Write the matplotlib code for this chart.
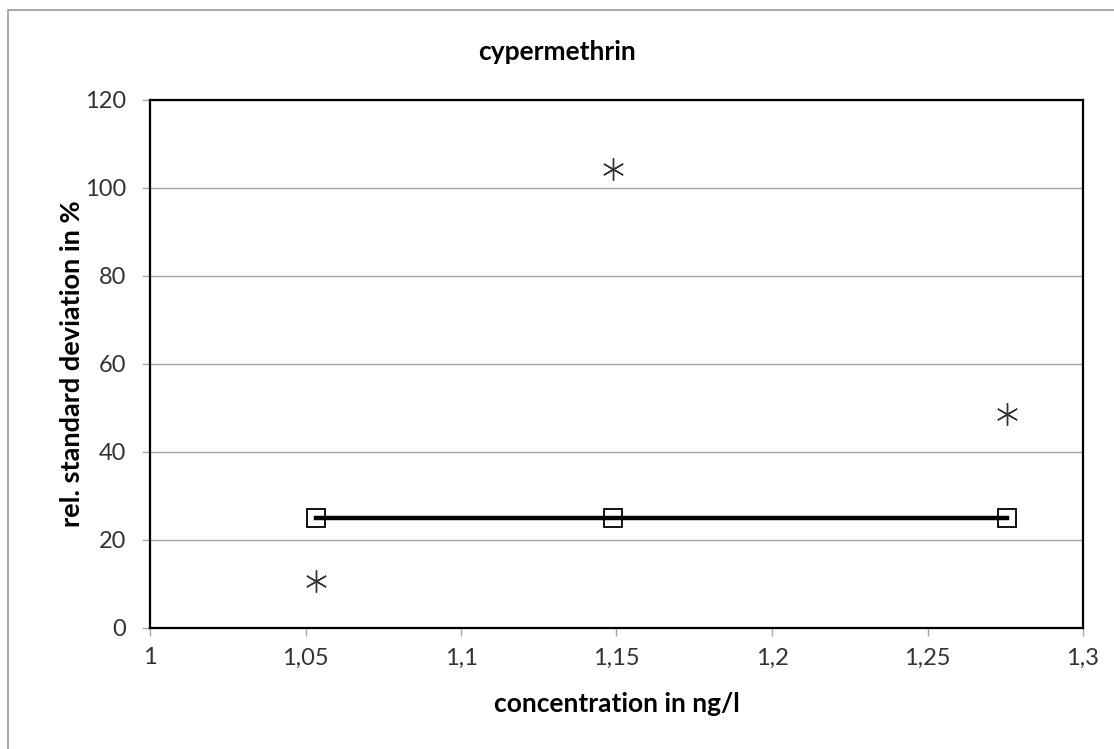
import matplotlib.pyplot as plt
from matplotlib.patches import Rectangle

plt.rcParams['font.family'] = ['Lato', 'DejaVu Sans']

# measured values
conc = [1.0534, 1.1489, 1.2756]
rsd = [10.7, 104.3, 48.6]
limit = [25, 25, 25]

x_ticks = [1, 1.05, 1.1, 1.15, 1.2, 1.25, 1.3]
x_labels = ['1', '1,05', '1,1', '1,15', '1,2', '1,25', '1,3']
y_ticks = [0, 20, 40, 60, 80, 100, 120]

fig = plt.figure(figsize=(11.14, 7.49), dpi=100)
ax = fig.add_axes([150 / 1114, 1 - 628 / 749, 933 / 1114, 528 / 749])

# outer chart border
fig.patches.append(Rectangle((8 / 1114, -0.05), 1.2, (749 - 10) / 749 + 0.05,
                             transform=fig.transFigure, fill=False,
                             edgecolor='#999999', linewidth=1.2))

ax.plot(conc, limit, color='black', linewidth=3.2, marker='s', markersize=13,
        markerfacecolor='none', markeredgecolor='black', markeredgewidth=1.3,
        zorder=3)
ax.plot(conc, rsd, linestyle='none', marker=(6, 2, 0), markersize=16,
        color='#333333', markeredgewidth=1.0, zorder=3)

ax.set_xlim(1, 1.3)
ax.set_ylim(0, 120)
ax.set_xticks(x_ticks)
ax.set_xticklabels(x_labels)
ax.set_yticks(y_ticks)
ax.grid(axis='y', color='#a6a6a6', linewidth=1)
ax.set_axisbelow(True)
for s in ax.spines.values():
    s.set_linewidth(1.6)
    s.set_color('black')
ax.tick_params(direction='out', length=6, width=1, color='#a6a6a6',
               labelsize=17, labelcolor='#333333')
ax.tick_params(axis='x', pad=8)
ax.tick_params(axis='y', pad=11)

ax.set_xlabel('concentration in ng/l', fontsize=19, fontweight='bold', labelpad=17)
ax.set_ylabel('rel. standard deviation in %', fontsize=19.5, fontweight='bold', labelpad=1)
fig.text(0.5, 1 - 52 / 749, 'cypermethrin', ha='center', va='center',
         fontsize=19, fontweight='bold')

fig.savefig('out.png', dpi=100)
